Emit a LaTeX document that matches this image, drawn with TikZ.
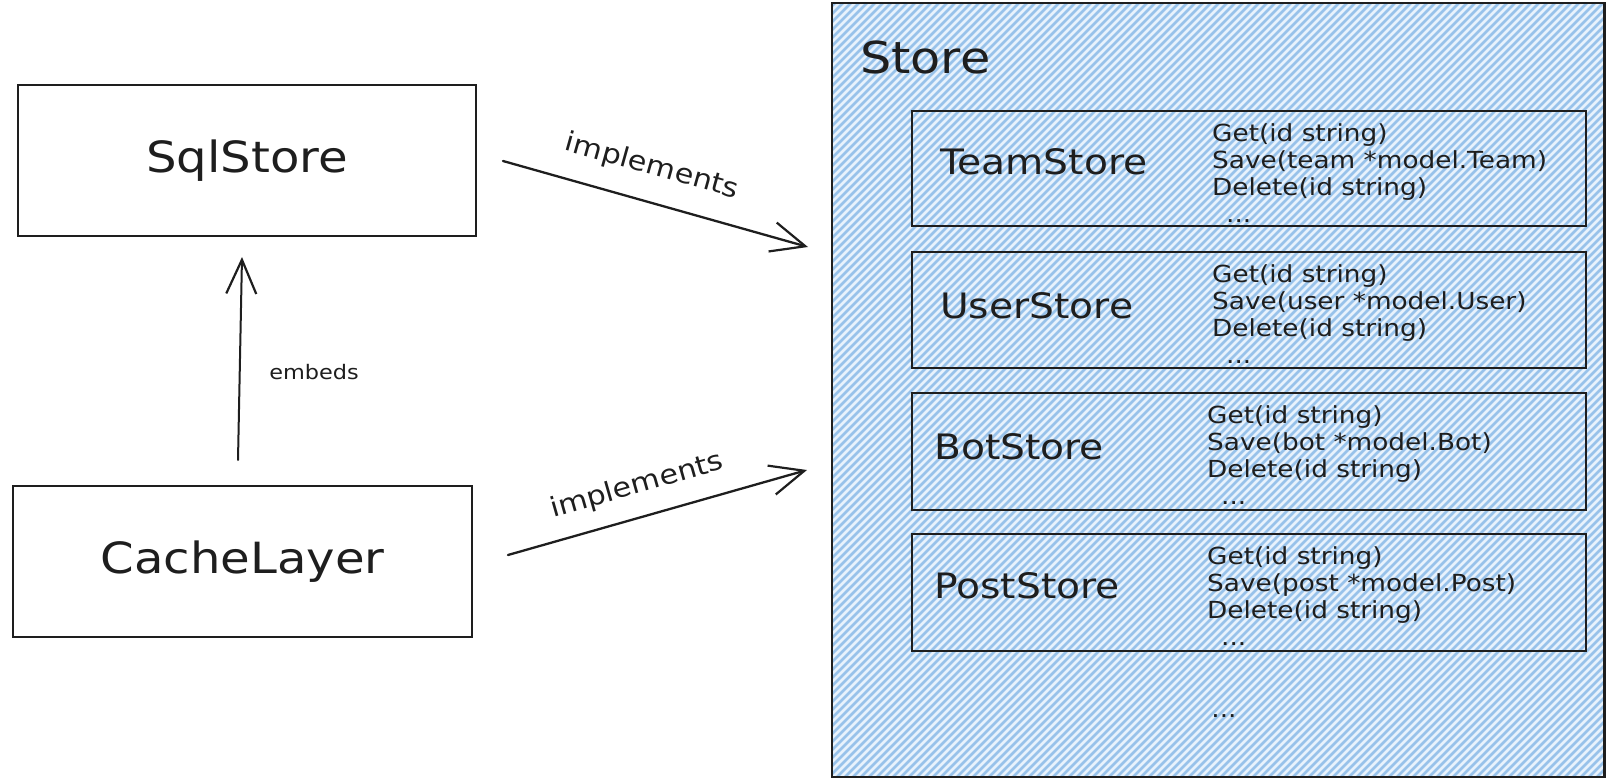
\documentclass[tikz,border=0pt]{standalone}
\usepackage{fontspec}
\newfontfamily\hand[FakeStretch=1.12]{DejaVu Sans}
\usetikzlibrary{arrows.meta}
\definecolor{ink}{HTML}{1E1E1E}
\definecolor{hatchbg}{HTML}{E8F2FC}
\definecolor{hatchline}{HTML}{98C2EA}

\begin{document}
\begin{tikzpicture}[x=1pt,y=-1pt,
  box/.style={draw=ink, line width=2.2pt, inner sep=0pt},
  bigtext/.style={font=\hand\fontsize{43}{50}\selectfont, text=ink},
  subname/.style={font=\hand\fontsize{35}{40}\selectfont, text=ink, inner sep=0pt, anchor=base west},
  ops/.style={font=\hand\fontsize{23.5}{27}\selectfont, text=ink, align=left, inner sep=0pt, anchor=north west},
  lbl/.style={font=\hand\fontsize{27}{30}\selectfont, text=ink, inner sep=0pt},
  conn/.style={draw=ink, line width=2.3pt, line cap=round,
    -{Straight Barb[length=34pt, width=30pt, line width=2.2pt]}}
]
\useasboundingbox (0,0) rectangle (1606,778);

% left-hand implementations
\node[box, bigtext, minimum width=458pt, minimum height=151pt, anchor=north west]
  (sql) at (17,84) {SqlStore};
\node[box, bigtext, minimum width=459pt, minimum height=151pt, anchor=north west]
  (cache) at (12,485) {CacheLayer};

% the Store interface, hatched
\node[minimum width=772pt, minimum height=774pt, anchor=north west, inner sep=0pt]
  (store) at (832,3) {};
\begin{scope}
  \clip (store.north west) rectangle (store.south east);
  \fill[hatchbg] (store.north west) rectangle (store.south east);
  \foreach \k in {-100,...,100}
    \draw[hatchline, line width=2.6pt] (832+8*\k,790) -- ++(800,-800);
\end{scope}
\draw[ink, line width=2.2pt] (store.north west) rectangle (store.south east);
\node[font=\hand\fontsize{44}{50}\selectfont, text=ink, inner sep=0pt, anchor=base west]
  (storetitle) at (860,74) {Store};

% sub-stores
\node[box, minimum width=674pt, minimum height=115pt, anchor=north west] (team) at (911,110) {};
\node[box, minimum width=674pt, minimum height=116pt, anchor=north west] (user) at (911,251) {};
\node[box, minimum width=674pt, minimum height=117pt, anchor=north west] (bot)  at (911,392) {};
\node[box, minimum width=674pt, minimum height=117pt, anchor=north west] (post) at (911,533) {};

\node[subname] (teamname) at (940,175) {TeamStore};
\node[subname] (username) at (940,318) {UserStore};
\node[subname] (botname)  at (934,459) {BotStore};
\node[subname] (postname) at (934,598) {PostStore};

\node[ops] (teamops) at (1212,123) {Get(id string)\\Save(team *model.Team)\\Delete(id string)\\\hspace*{14pt}...};
\node[ops] (userops) at (1212,264) {Get(id string)\\Save(user *model.User)\\Delete(id string)\\\hspace*{14pt}...};
\node[ops] (botops)  at (1207,405) {Get(id string)\\Save(bot *model.Bot)\\Delete(id string)\\\hspace*{14pt}...};
\node[ops] (postops) at (1207,546) {Get(id string)\\Save(post *model.Post)\\Delete(id string)\\\hspace*{14pt}...};

\node[font=\hand\fontsize{23.5}{27}\selectfont, text=ink] (more) at (1224,716) {...};

% connectors
\coordinate (embedsFrom) at (238,460);
\coordinate (embedsTo) at (242,257);
\draw[conn, line width=2pt] (embedsFrom) -- (embedsTo);
\node[font=\hand\fontsize{20}{24}\selectfont, text=ink] (embedslbl) at (314,372) {embeds};

\coordinate (implTopFrom) at (503,161);
\coordinate (implTopTo) at (808,247);
\draw[conn] (implTopFrom) -- (implTopTo);
\node[lbl, rotate=-15.7] (impltoplbl) at (652,167) {implements};

\coordinate (implBotFrom) at (508,555);
\coordinate (implBotTo) at (807,470);
\draw[conn] (implBotFrom) -- (implBotTo);
\node[lbl, rotate=15.9] (implbotlbl) at (637,486) {implements};
\end{tikzpicture}
\end{document}
